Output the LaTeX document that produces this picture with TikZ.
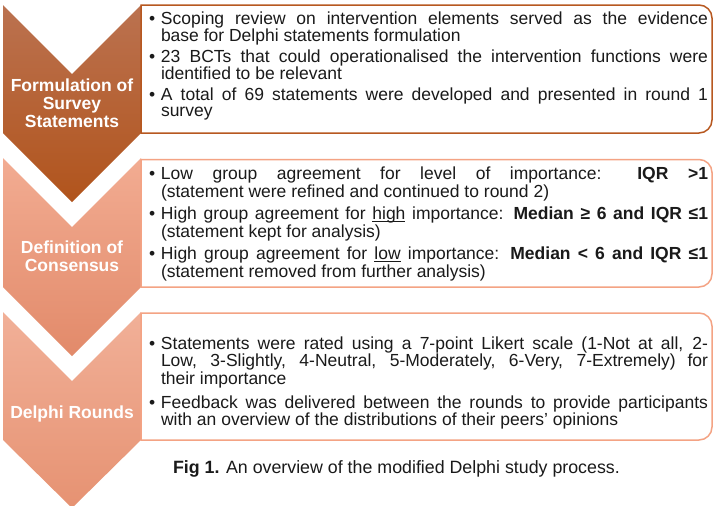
\documentclass[tikz,border=0pt]{standalone}
\usepackage{fontspec}
\setmainfont{Liberation Sans}

% stage colours
\definecolor{stageAtop}{RGB}{187,114,80}
\definecolor{stageAbot}{RGB}{177,84,28}
\definecolor{stageBtop}{RGB}{242,172,146}
\definecolor{stageBbot}{RGB}{226,138,106}
\definecolor{stageCtop}{RGB}{241,176,152}
\definecolor{stageCbot}{RGB}{230,146,114}
\definecolor{frameA}{RGB}{183,88,32}
\definecolor{frameB}{RGB}{244,163,132}
\definecolor{bodytext}{RGB}{26,26,26}

% bulleted lines of a stage description
\newcommand\bulletmark{\makebox[12pt][l]{•}}
\newcommand\spreadline[1]{\makebox[547pt][s]{#1}}
\newcommand\firstline[1]{\hbox{\bulletmark\spreadline{#1}}}
\newcommand\nextline[1]{\hbox{\hspace*{12pt}\spreadline{#1}}}
\newcommand\lastline[1]{\hbox{\hspace*{12pt}#1}}
\newcommand\itemblock[2]{\vtop{\baselineskip=#1\relax #2}}
\newcommand\centredline[1]{\hbox to 0pt{\hss #1\hss}}
% underline set just below the baseline
\newsavebox\ulbox
\newcommand\lineunder[1]{\sbox\ulbox{#1}\rlap{\rule[-3.3pt]{\wd\ulbox}{0.9pt}}\usebox\ulbox}

\begin{document}
\begin{tikzpicture}[x=1pt,y=-1pt,
  every node/.style={inner sep=0pt,outer sep=0pt},
  stagelabel/.style={anchor=base,text=white,font=\bfseries\fontsize{17.5}{18}\selectfont},
  itemtext/.style={anchor=base west,text=bodytext,font=\fontsize{17.5}{18}\selectfont},
  frame/.style={line width=1.5pt}
]
\useasboundingbox[fill=white] (0,0) rectangle (713,506);

% chevrons
\path[top color=stageAtop,bottom color=stageAbot]
  (3,5) -- (72,74) -- (141,5) -- (141,133) -- (72,202) -- (3,133) -- cycle;
\path[top color=stageBtop,bottom color=stageBbot]
  (3,158) -- (72,227) -- (141,158) -- (141,287) -- (72,356) -- (3,287) -- cycle;
\path[top color=stageCtop,bottom color=stageCbot]
  (3,312) -- (72,381) -- (141,312) -- (141,440) -- (72,508) -- (3,440) -- cycle;

% description frames, rounded on the right
\draw[frame,draw=frameA] (141,5) -- (699,5) arc[start angle=-90,end angle=0,radius=13]
  -- (712,120) arc[start angle=0,end angle=90,radius=13] -- (141,133) -- cycle;
\draw[frame,draw=frameB] (141,159.5) -- (699,159.5) arc[start angle=-90,end angle=0,radius=13]
  -- (712,274) arc[start angle=0,end angle=90,radius=13] -- (141,287) -- cycle;
\draw[frame,draw=frameB] (141,313) -- (699,313) arc[start angle=-90,end angle=0,radius=13]
  -- (712,427) arc[start angle=0,end angle=90,radius=13] -- (141,440) -- cycle;

% stage names
\node[stagelabel] (labelA) at (72,91) {\itemblock{18pt}{\centredline{Formulation of}\centredline{Survey}\centredline{Statements}}};
\node[stagelabel] (labelB) at (72,253) {\itemblock{18pt}{\centredline{Definition of}\centredline{Consensus}}};
\node[stagelabel] (labelC) at (72,418) {\itemblock{18pt}{\centredline{Delphi Rounds}}};

% stage 1
\node[itemtext] (a1) at (149,24.3) {\itemblock{16.2pt}{%
  \firstline{Scoping review on intervention elements served as the evidence}%
  \lastline{base for Delphi statements formulation}}};
\node[itemtext] (a2) at (149,62.3) {\itemblock{16.2pt}{%
  \firstline{23 BCTs that could operationalised the intervention functions were}%
  \lastline{identified to be relevant}}};
\node[itemtext] (a3) at (149,100.5) {\itemblock{16.2pt}{%
  \firstline{A total of 69 statements were developed and presented in round 1}%
  \lastline{survey}}};

% stage 2
\node[itemtext] (b1) at (149,179) {\itemblock{18.4pt}{%
  \firstline{Low group agreement for level of importance: \textbf{IQR >1}}%
  \lastline{(statement were refined and continued to round 2)}}};
\node[itemtext] (b2) at (149,219) {\itemblock{18.4pt}{%
  \firstline{High group agreement for \lineunder{high} importance: \textbf{Median ≥ 6 and IQR ≤1}}%
  \lastline{(statement kept for analysis)}}};
\node[itemtext] (b3) at (149,259) {\itemblock{18.4pt}{%
  \firstline{High group agreement for \lineunder{low} importance: \textbf{Median < 6 and IQR ≤1}}%
  \lastline{(statement removed from further analysis)}}};

% stage 3
\node[itemtext] (c1) at (149,349) {\itemblock{17.5pt}{%
  \firstline{Statements were rated using a 7-point Likert scale (1-Not at all, 2-}%
  \nextline{Low, 3-Slightly, 4-Neutral, 5-Moderately, 6-Very, 7-Extremely) for}%
  \lastline{their importance}}};
\node[itemtext] (c2) at (149,408) {\itemblock{17.5pt}{%
  \firstline{Feedback was delivered between the rounds to provide participants}%
  \lastline{with an overview of the distributions of their peers’ opinions}}};

% caption
\node[itemtext,font=\fontsize{17.8}{18}\selectfont] (caption) at (173,473) {\textbf{Fig 1.} An overview of the modified Delphi study process.};
\end{tikzpicture}
\end{document}
